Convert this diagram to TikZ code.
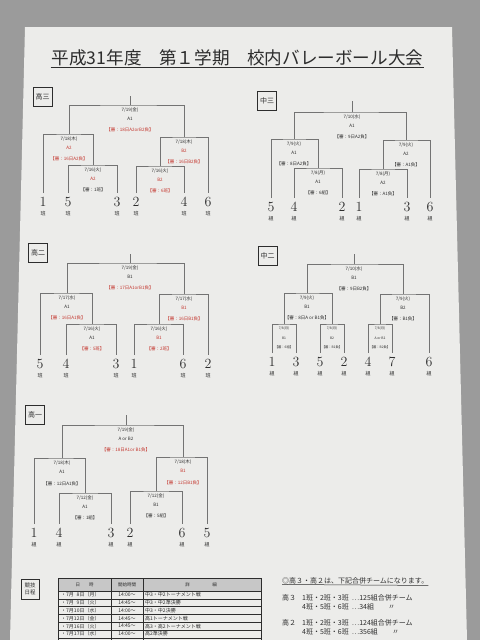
\documentclass[tikz,border=0pt]{standalone}
\usepackage{fontspec}
\newfontfamily\jp{Noto Sans CJK JP}
\usetikzlibrary{positioning}
\definecolor{judge}{RGB}{196,54,46}
\definecolor{ink}{RGB}{45,45,45}
\definecolor{rule}{RGB}{115,115,115}
\definecolor{paper}{RGB}{236,236,234}
\definecolor{desk}{RGB}{155,155,155}
\newcommand{\rd}[1]{\textcolor{judge}{#1}}

\begin{document}
\begin{tikzpicture}[x=1pt, y=-1pt, ink,
    bracket/.style={draw=rule, line width=0.55pt},
    team/.style={font=\fontsize{14}{14}\selectfont, anchor=north, inner xsep=0pt, inner ysep=4pt, label distance=3.5pt, label={[unit]below:#1}},
    team/.default=組,
    unit/.style={font=\jp\fontsize{5}{5}\selectfont, inner sep=0pt},
    grade/.style={draw=ink, line width=0.6pt, font=\jp\fontsize{7}{7}\selectfont, minimum size=19pt, inner sep=0pt},
    info/.style={font=\jp\fontsize{4.5}{8.5}\selectfont, align=center, anchor=north, inner sep=0pt, yshift=-3pt},
    smallinfo/.style={info, font=\jp\fontsize{3.3}{9.5}\selectfont},
    cell/.style={font=\jp\fontsize{5}{5}\selectfont, inner sep=0pt},
    note/.style={font=\jp\fontsize{7}{7}\selectfont, anchor=west, inner sep=0pt}]

    % Photo background and sheet
    \fill[desk] (0,0) rectangle (480,640);
    \fill[paper] (25,27) -- (452,27) -- (467,640) -- (10,640) -- cycle;
    \useasboundingbox (0,0) rectangle (480,640);

    % Title
    \node[font=\jp\fontsize{17.6}{18}\selectfont, inner sep=1pt] (title) at (237.5,58) {平成31年度　第１学期　校内バレーボール大会};
    \draw[ink, line width=0.6pt] (title.south west) -- (title.south east);

    % 高三
    \node[grade] (s3) at (42.5,96.5) {高三};
    \node[team=班] (s3n1) at (43,193) {1};
    \node[team=班] (s3n5) at (68,193) {5};
    \node[team=班] (s3n3) at (117,193) {3};
    \node[team=班] (s3n2) at (136,193) {2};
    \node[team=班] (s3n4) at (184,193) {4};
    \node[team=班] (s3n6) at (208,193) {6};
    \coordinate (s3r1) at (93,165);
    \coordinate (s3r2) at (160,166);
    \coordinate (s3sl) at (69,134);
    \coordinate (s3sr) at (184,137);
    \coordinate (s3f) at (130,105);
    \draw[bracket] (s3n5.north) |- (s3r1) -| (s3n3.north);
    \draw[bracket] (s3n2.north) |- (s3r2) -| (s3n4.north);
    \draw[bracket] (s3n1.north) |- (s3sl) -| (s3r1);
    \draw[bracket] (s3r2) |- (s3sr) -| (s3n6.north);
    \draw[bracket] (s3sl) |- (s3f) -| (s3sr);
    \draw[bracket] (s3f) -- ++(0,-9);
    \node[info] (s3fi) at (s3f) {7/19(金)\\A1\\[3pt]\rd{【審：18日A2orB2負】}};
    \node[info] (s3sli) at (s3sl) {7/18(木)\\\rd{A2}\\[3pt]\rd{【審：16日A2負】}};
    \node[info] (s3sri) at (s3sr) {7/18(木)\\\rd{B2}\\[3pt]\rd{【審：16日B2負】}};
    \node[info] (s3r1i) at (s3r1) {7/16(火)\\\rd{A2}\\[3pt]【審：1班】};
    \node[info] (s3r2i) at (s3r2) {7/16(火)\\\rd{B2}\\[3pt]\rd{【審：6班】}};

    % 中三
    \node[grade] (j3) at (267,101) {中三};
    \node[team] (j3n5) at (271,198) {5};
    \node[team] (j3n4) at (294,198) {4};
    \node[team] (j3n2) at (342,198) {2};
    \node[team] (j3n1) at (359,198) {1};
    \node[team] (j3n3) at (407,198) {3};
    \node[team] (j3n6) at (430,198) {6};
    \coordinate (j3r1) at (318,168);
    \coordinate (j3r2) at (383,169);
    \coordinate (j3sl) at (294,139);
    \coordinate (j3sr) at (406,140);
    \coordinate (j3f) at (352,112);
    \draw[bracket] (j3n4.north) |- (j3r1) -| (j3n2.north);
    \draw[bracket] (j3n1.north) |- (j3r2) -| (j3n3.north);
    \draw[bracket] (j3n5.north) |- (j3sl) -| (j3r1);
    \draw[bracket] (j3r2) |- (j3sr) -| (j3n6.north);
    \draw[bracket] (j3sl) |- (j3f) -| (j3sr);
    \draw[bracket] (j3f) -- ++(0,-11);
    \node[info] (j3fi) at (j3f) {7/10(水)\\A1\\[3pt]【審：9日A2負】};
    \node[info] (j3sli) at (j3sl) {7/9(火)\\A1\\[3pt]【審：8日A2負】};
    \node[info] (j3sri) at (j3sr) {7/9(火)\\A2\\[3pt]【審：A1負】};
    \node[info] (j3r1i) at (j3r1) {7/8(月)\\A1\\[3pt]【審：6組】};
    \node[info] (j3r2i) at (j3r2) {7/8(月)\\A2\\[3pt]【審：A1負】};

    % 高二
    \node[grade] (s2) at (38,252.5) {高二};
    \node[team=班] (s2n5) at (40,355) {5};
    \node[team=班] (s2n4) at (66,355) {4};
    \node[team=班] (s2n3) at (116,355) {3};
    \node[team=班] (s2n1) at (134,355) {1};
    \node[team=班] (s2n6) at (183,355) {6};
    \node[team=班] (s2n2) at (208,355) {2};
    \coordinate (s2r1) at (92,324);
    \coordinate (s2r2) at (159,324);
    \coordinate (s2sl) at (67,293);
    \coordinate (s2sr) at (184,294);
    \coordinate (s2f) at (130,263);
    \draw[bracket] (s2n4.north) |- (s2r1) -| (s2n3.north);
    \draw[bracket] (s2n1.north) |- (s2r2) -| (s2n6.north);
    \draw[bracket] (s2n5.north) |- (s2sl) -| (s2r1);
    \draw[bracket] (s2r2) |- (s2sr) -| (s2n2.north);
    \draw[bracket] (s2sl) |- (s2f) -| (s2sr);
    \draw[bracket] (s2f) -- ++(0,-9);
    \node[info] (s2fi) at (s2f) {7/19(金)\\B1\\[3pt]\rd{【審：17日A1orB1負】}};
    \node[info] (s2sli) at (s2sl) {7/17(水)\\A1\\[3pt]\rd{【審：16日A1負】}};
    \node[info] (s2sri) at (s2sr) {7/17(水)\\\rd{B1}\\[3pt]\rd{【審：16日B1負】}};
    \node[info] (s2r1i) at (s2r1) {7/16(火)\\A1\\[3pt]\rd{【審：5班】}};
    \node[info] (s2r2i) at (s2r2) {7/16(火)\\\rd{B1}\\[3pt]\rd{【審：2班】}};

    % 中二
    \node[grade] (j2) at (267.5,256) {中二};
    \node[team] (j2n1) at (272,353) {1};
    \node[team] (j2n3) at (296,353) {3};
    \node[team] (j2n5) at (320,353) {5};
    \node[team] (j2n2) at (344,353) {2};
    \node[team] (j2n4) at (368,353) {4};
    \node[team] (j2n7) at (392,353) {7};
    \node[team] (j2n6) at (429,353) {6};
    \coordinate (j2r1) at (284,324);
    \coordinate (j2r2) at (332,324);
    \coordinate (j2r3) at (380,324);
    \coordinate (j2sl) at (307,293);
    \coordinate (j2sr) at (403,294);
    \coordinate (j2f) at (354,264);
    \draw[bracket] (j2n1.north) |- (j2r1) -| (j2n3.north);
    \draw[bracket] (j2n5.north) |- (j2r2) -| (j2n2.north);
    \draw[bracket] (j2n4.north) |- (j2r3) -| (j2n7.north);
    \draw[bracket] (j2r1) |- (j2sl) -| (j2r2);
    \draw[bracket] (j2r3) |- (j2sr) -| (j2n6.north);
    \draw[bracket] (j2sl) |- (j2f) -| (j2sr);
    \draw[bracket] (j2f) -- ++(0,-10);
    \node[info] (j2fi) at (j2f) {7/10(水)\\B1\\[3pt]【審：9日B2負】};
    \node[info] (j2sli) at (j2sl) {7/9(火)\\B1\\[3pt]【審：8日A or B1負】};
    \node[info] (j2sri) at (j2sr) {7/9(火)\\B2\\[3pt]【審：B1負】};
    \node[smallinfo] (j2r1i) at (j2r1) {7/8(月)\\B1\\【審：6組】};
    \node[smallinfo] (j2r2i) at (j2r2) {7/8(月)\\B2\\【審：B1負】};
    \node[smallinfo] (j2r3i) at (j2r3) {7/8(月)\\A or B2\\【審：B2負】};

    % 高一
    \node[grade] (s1) at (35,415) {高一};
    \node[team] (s1n1) at (34,524) {1};
    \node[team] (s1n4) at (59,524) {4};
    \node[team] (s1n3) at (111,524) {3};
    \node[team] (s1n2) at (130,524) {2};
    \node[team] (s1n6) at (182,524) {6};
    \node[team] (s1n5) at (207,524) {5};
    \coordinate (s1r1) at (85,493);
    \coordinate (s1r2) at (156,491);
    \coordinate (s1sl) at (62,458);
    \coordinate (s1sr) at (183,457);
    \coordinate (s1f) at (126,425);
    \draw[bracket] (s1n4.north) |- (s1r1) -| (s1n3.north);
    \draw[bracket] (s1n2.north) |- (s1r2) -| (s1n6.north);
    \draw[bracket] (s1n1.north) |- (s1sl) -| (s1r1);
    \draw[bracket] (s1r2) |- (s1sr) -| (s1n5.north);
    \draw[bracket] (s1sl) |- (s1f) -| (s1sr);
    \draw[bracket] (s1f) -- ++(0,-10);
    \node[info] (s1fi) at (s1f) {7/19(金)\\A or B2\\[3pt]\rd{【審：18日A1or B1負】}};
    \node[info] (s1sli) at (s1sl) {7/18(木)\\A1\\[4pt]【審：12日A1負】};
    \node[info] (s1sri) at (s1sr) {7/18(木)\\\rd{B1}\\[4pt]\rd{【審：12日B1負】}};
    \node[info] (s1r1i) at (s1r1) {7/12(金)\\A1\\[3pt]【審：1組】};
    \node[info] (s1r2i) at (s1r2) {7/12(金)\\B1\\[3pt]【審：5組】};

    % Schedule table
    \node[grade, minimum width=18pt, minimum height=20pt, align=center, font=\jp\fontsize{5.5}{6.5}\selectfont] (sched) at (30,589) {競技\\日程};
    \fill[black!22] (58,578) rectangle (261,591);
    \draw[ink, line width=0.5pt] (58,640) |- (261,578) -- (261,640);
    \draw[ink, line width=0.5pt] (111,578) -- (111,640) (143,578) -- (143,640);
    \foreach \y in {591,598.8,606.6,614.4,622.2,630,637.8}
        \draw[ink, line width=0.4pt] (58,\y) -- (261,\y);
    \node[cell, font=\jp\fontsize{4.5}{5}\selectfont] (hd1) at (84.5,584.5) {日　　時};
    \node[cell, font=\jp\fontsize{4.5}{5}\selectfont] (hd2) at (127,584.5) {開始時間};
    \node[cell, font=\jp\fontsize{4.5}{5}\selectfont] (hd3) at (201,584.5) {詳　　　　　細};
    \foreach \d/\t/\c [count=\i from 0] in {
        ・7月\hphantom{1}8日（月）/14:00～/中3・中2トーナメント戦,
        ・7月\hphantom{1}9日（火）/14:45～/中3・中2準決勝,
        ・7月10日（水）/14:00～/中3・中2決勝,
        ・7月12日（金）/14:45～/高1トーナメント戦,
        ・7月16日（火）/14:45～/高3・高2トーナメント戦,
        ・7月17日（水）/14:00～/高2準決勝}
    {
        \node[cell, anchor=west] (day\i) at (61,594.9+7.8*\i) {\d};
        \node[cell] (start\i) at (127,594.9+7.8*\i) {\t};
        \node[cell, anchor=west] (what\i) at (145,594.9+7.8*\i) {\c};
    }

    % Merged teams
    \node[note] (merge) at (282,581) {◎高３・高２は、下記合併チームになります。};
    \draw[ink, line width=0.5pt] (merge.south west) -- ([yshift=-1pt]merge.south east);
    \node[note] (m3) at (282,598) {高３};
    \node[note] (m3a) at (302,598) {1班・2班・3班\hspace{3pt}…125組合併チーム};
    \node[note] (m3b) at (302,607) {4班・5班・6班\hspace{3pt}…34組};
    \node[note] (m3c) at (388,607) {〃};
    \node[note] (m2) at (282,623) {高２};
    \node[note] (m2a) at (302,623) {1班・2班・3班\hspace{3pt}…124組合併チーム};
    \node[note] (m2b) at (302,632) {4班・5班・6班\hspace{3pt}…356組};
    \node[note] (m2c) at (392,632) {〃};

\end{tikzpicture}
\end{document}
